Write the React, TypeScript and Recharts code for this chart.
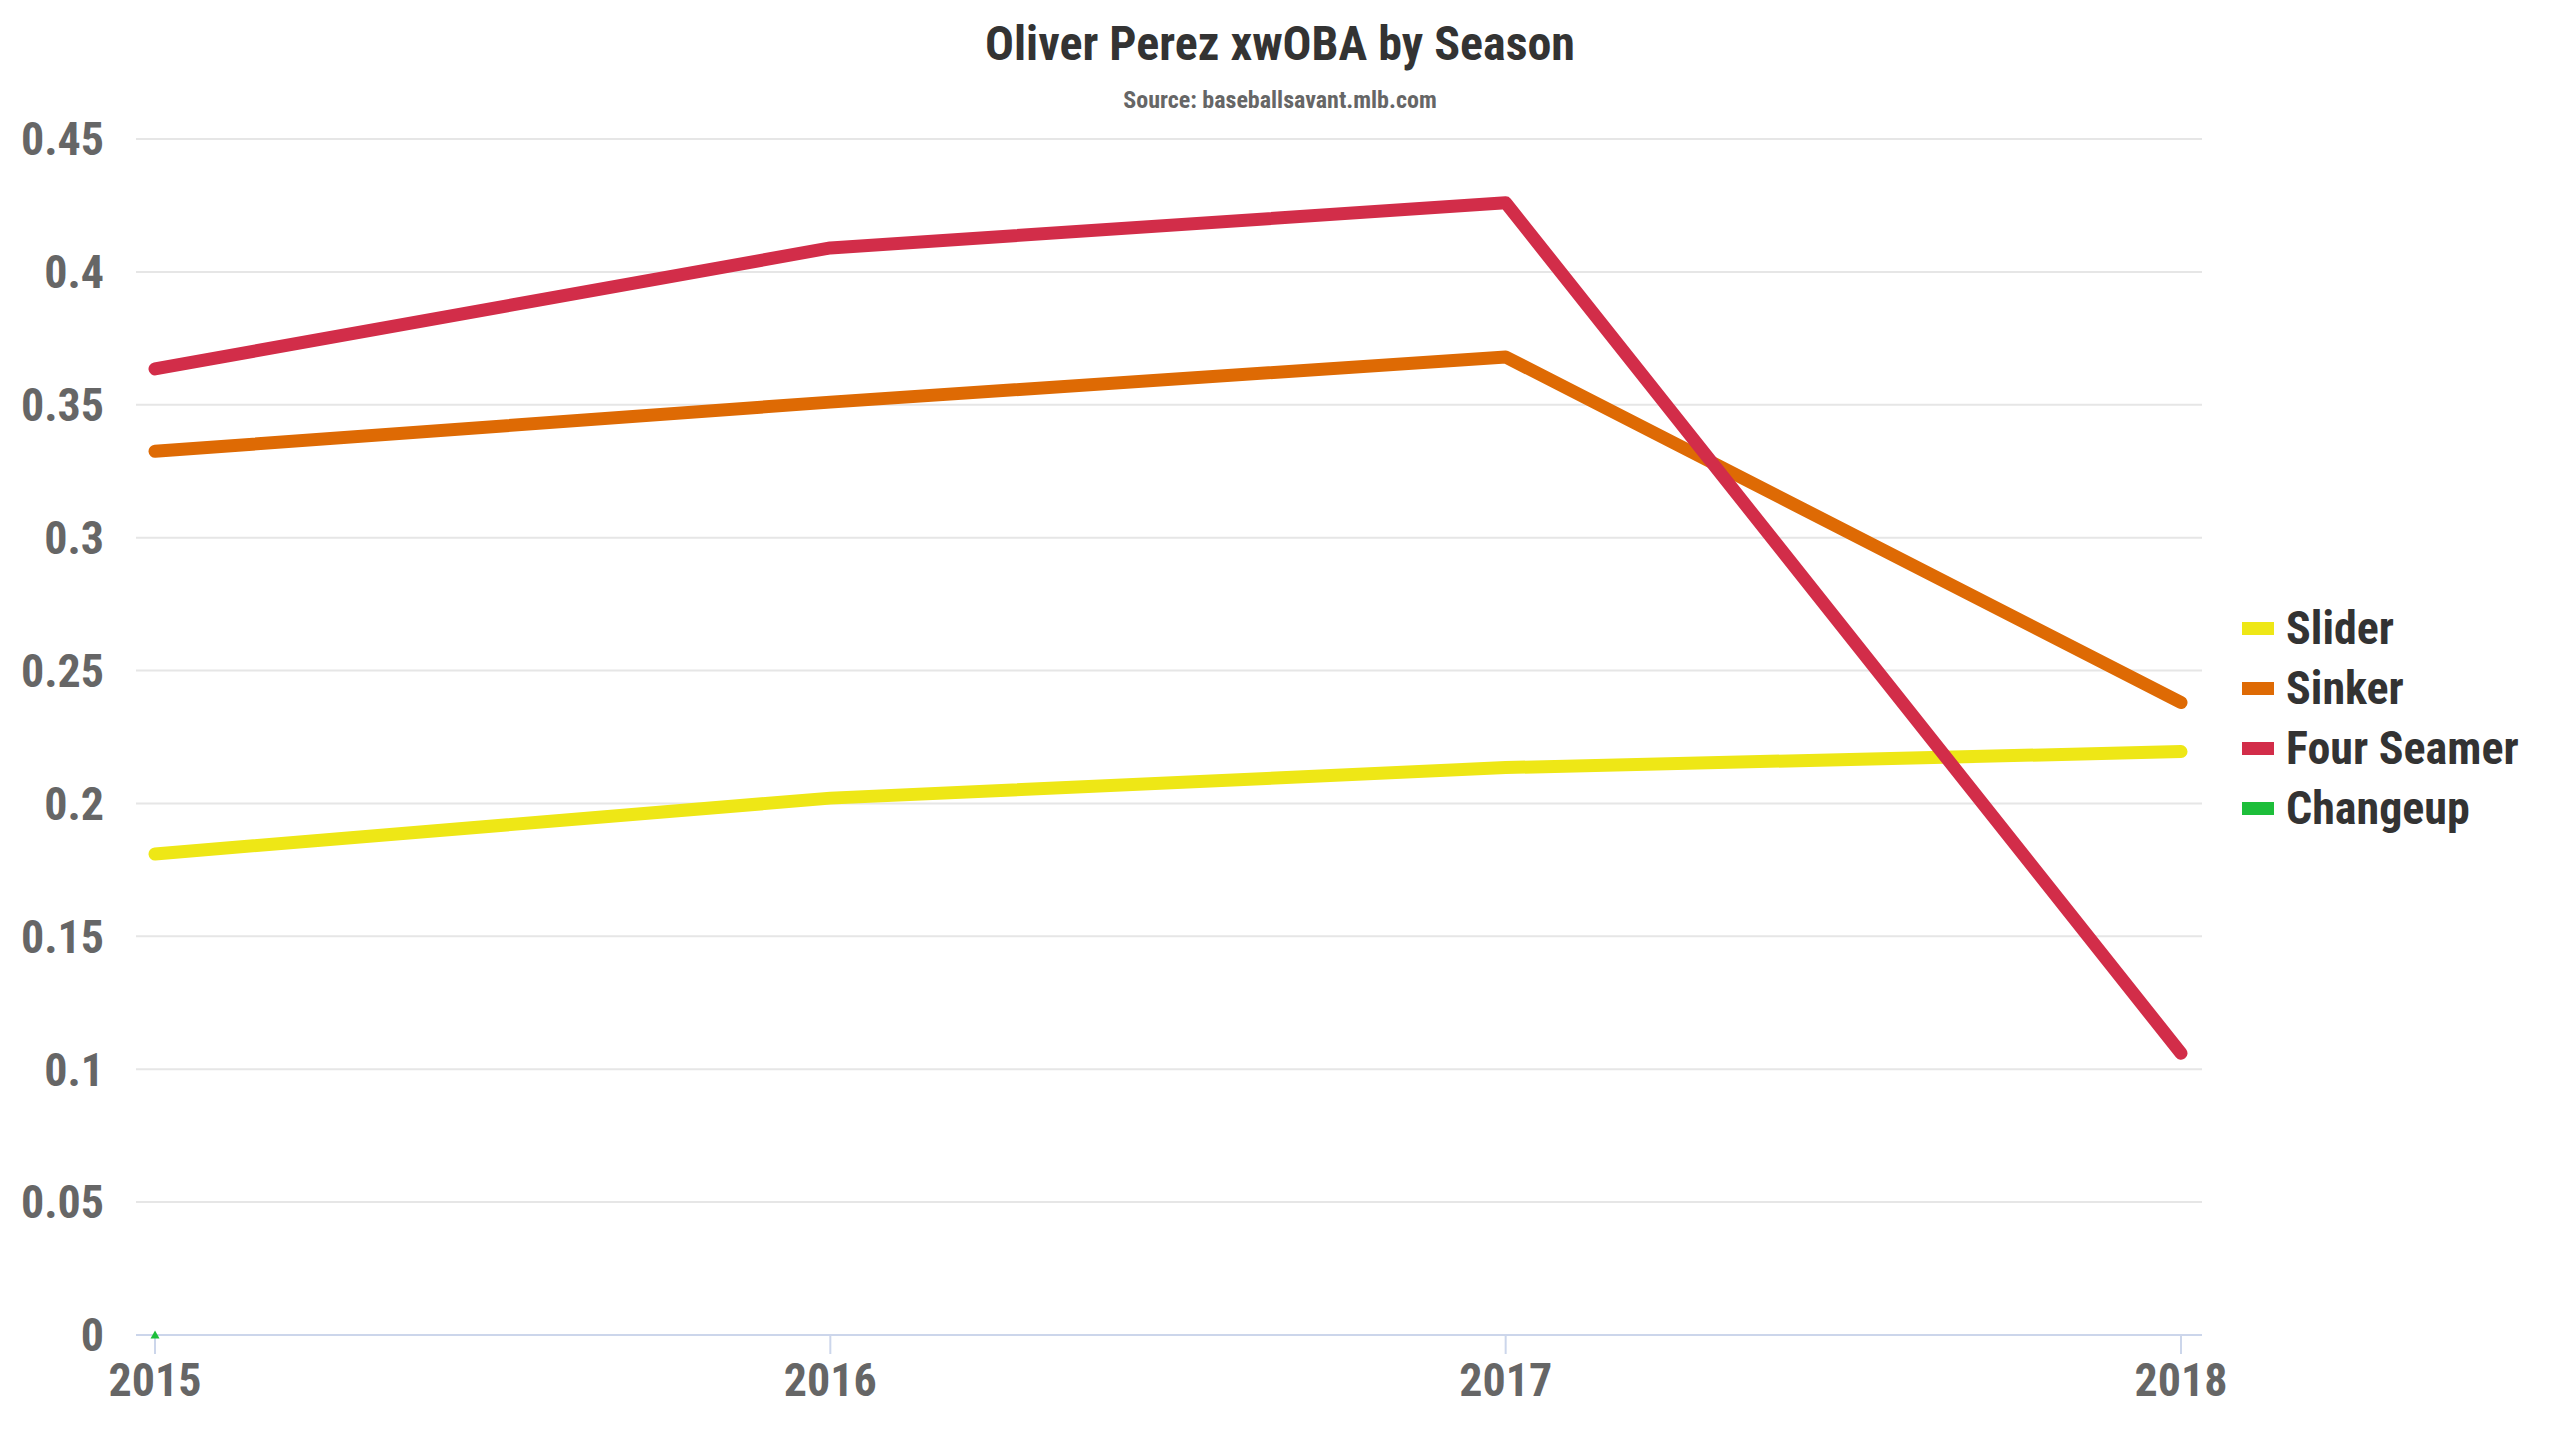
import React from "react";
import { LineChart, Line, XAxis, YAxis, CartesianGrid, Legend } from "recharts";

const seasons = [2015, 2016, 2017, 2018];
const seriesNames = ["Slider", "Sinker", "Four Seamer", "Changeup"];
const slider = [0.181, 0.202, 0.2135, 0.2195];
const sinker = [0.3325, 0.351, 0.368, 0.238];
const fourSeamer = [0.3635, 0.409, 0.426, 0.106];
const changeup: (number | null)[] = [0, null, null, null];
const yTicks = [0, 0.05, 0.1, 0.15, 0.2, 0.25, 0.3, 0.35, 0.4, 0.45];

const FONT = "'Roboto Condensed', Roboto, sans-serif";

const data = seasons.map((s, i) => ({
  season: s,
  slider: slider[i],
  sinker: sinker[i],
  fourSeamer: fourSeamer[i],
  changeup: changeup[i],
}));

function Triangle(props: any) {
  const { cx, cy, value } = props;
  if (cx == null || cy == null || value == null) return null;
  return (
    <path
      d={`M${cx},${cy - 4.5} L${cx + 4.5},${cy + 3.5} L${cx - 4.5},${cy + 3.5} Z`}
      fill="#1dbe3a"
    />
  );
}

// keep legend in series order (recharts sorts by name otherwise)
function LegendList(props: any) {
  const items = [...(props.payload || [])].sort(
    (a: any, b: any) => seriesNames.indexOf(a.value) - seriesNames.indexOf(b.value)
  );
  return (
    <div style={{ fontFamily: FONT, fontWeight: 700, fontSize: 46, color: "#333" }}>
      {items.map((it: any) => (
        <div key={it.value} style={{ height: 60, display: "flex", alignItems: "center" }}>
          <span style={{ display: "inline-block", width: 32, height: 13, background: it.color, marginRight: 12 }} />
          <span style={{ lineHeight: "60px" }}>{it.value}</span>
        </div>
      ))}
    </div>
  );
}

export default function App() {
  return (
    <div style={{ position: "absolute", left: 0, top: 0, width: 2560, height: 1440, background: "#fff" }}>
      <div
        style={{
          position: "absolute", left: 0, top: 14, width: 2560, textAlign: "center",
          fontFamily: FONT, fontWeight: 700, fontSize: 48, lineHeight: "60px", color: "#333",
        }}
      >
        Oliver Perez xwOBA by Season
      </div>
      <div
        style={{
          position: "absolute", left: 0, top: 85, width: 2560, textAlign: "center",
          fontFamily: FONT, fontWeight: 700, fontSize: 24, lineHeight: "30px", color: "#666",
        }}
      >
        Source: baseballsavant.mlb.com
      </div>
      <LineChart width={2560} height={1440} data={data} margin={{ top: 139, right: 358, bottom: 0, left: 0 }}>
        <CartesianGrid vertical={false} stroke="#e6e6e6" strokeWidth={2} />
        <XAxis
          dataKey="season"
          type="number"
          domain={[2015, 2018]}
          ticks={seasons}
          padding={{ left: 19, right: 21 }}
          height={105}
          stroke="#ccd6eb"
          strokeWidth={2}
          tickSize={19}
          tickMargin={9}
          tick={{ fill: "#666", fontSize: 46, fontWeight: 700, fontFamily: FONT }}
        />
        <YAxis
          domain={[0, 0.45]}
          ticks={yTicks}
          width={136}
          axisLine={false}
          tickLine={false}
          tickSize={0}
          tickMargin={32}
          tick={{ fill: "#666", fontSize: 46, fontWeight: 700, fontFamily: FONT }}
        />
        <Legend
          layout="vertical"
          align="center"
          verticalAlign="middle"
          content={LegendList}
          wrapperStyle={{ left: 2242, top: 598, width: 318 }}
        />
        <Line name={seriesNames[0]} dataKey="slider" stroke="#eee716" strokeWidth={13} strokeLinecap="round" strokeLinejoin="round" dot={false} activeDot={false} isAnimationActive={false} />
        <Line name={seriesNames[1]} dataKey="sinker" stroke="#de6a04" strokeWidth={13} strokeLinecap="round" strokeLinejoin="round" dot={false} activeDot={false} isAnimationActive={false} />
        <Line name={seriesNames[2]} dataKey="fourSeamer" stroke="#d22d49" strokeWidth={13} strokeLinecap="round" strokeLinejoin="round" dot={false} activeDot={false} isAnimationActive={false} />
        <Line name={seriesNames[3]} dataKey="changeup" stroke="#1dbe3a" strokeWidth={13} dot={<Triangle />} activeDot={false} isAnimationActive={false} />
      </LineChart>
    </div>
  );
}
